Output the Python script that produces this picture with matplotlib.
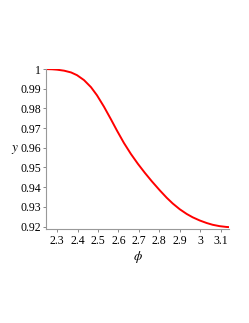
import matplotlib
matplotlib.use("Agg")
import matplotlib.pyplot as plt

# points
phi = [2.2463, 2.2756, 2.3000, 2.3341, 2.3683, 2.3976, 2.4317, 2.4659,
       2.4951, 2.5293, 2.5634, 2.5927, 2.6268, 2.6610, 2.6951, 2.7293,
       2.7634, 2.8024, 2.8366, 2.8659, 2.9000, 2.9341, 2.9634, 2.9976,
       3.0317, 3.0610, 3.0951, 3.1278, 3.1416]
y = [1.0000, 0.9999, 0.9997, 0.9992, 0.9983, 0.9969, 0.9944, 0.9908,
     0.9867, 0.9809, 0.9745, 0.9688, 0.9625, 0.9569, 0.9519, 0.9473,
     0.9430, 0.9384, 0.9346, 0.9317, 0.9288, 0.9264, 0.9247, 0.9231,
     0.9218, 0.9209, 0.9202, 0.9198, 0.9197]

xticks = [2.3, 2.4, 2.5, 2.6, 2.7, 2.8, 2.9, 3.0, 3.1]
xticklabels = ["2.3", "2.4", "2.5", "2.6", "2.7", "2.8", "2.9", "3", "3.1"]
yticks = [0.92, 0.93, 0.94, 0.95, 0.96, 0.97, 0.98, 0.99, 1.0]
yticklabels = ["0.92", "0.93", "0.94", "0.95", "0.96", "0.97", "0.98", "0.99", "1"]

plt.rcParams["font.family"] = "Liberation Serif"
plt.rcParams["mathtext.fontset"] = "stix"

fig = plt.figure(figsize=(2.49, 3.23), dpi=100)
ax = fig.add_axes([0.185, 0.2895, 0.735, 0.4966])

ax.plot(phi, y, color="red", linewidth=1.4, solid_capstyle="butt",
        solid_joinstyle="round")

ax.set_xlim(2.246, 3.1416)
ax.set_ylim(0.9185, 1.0)

ax.set_xticks(xticks)
ax.set_xticklabels(xticklabels)
ax.set_yticks(yticks)
ax.set_yticklabels(yticklabels)

for s in ["top", "right"]:
    ax.spines[s].set_visible(False)
for s in ["left", "bottom"]:
    ax.spines[s].set_color("#999999")
    ax.spines[s].set_linewidth(0.8)

ax.tick_params(axis="both", direction="out", length=2.2, width=0.7,
               color="#888888", labelsize=8.5, pad=1.5)

ax.set_xlabel(r"$\phi$", fontsize=9.5, labelpad=2)
ax.set_ylabel(r"$y$", fontsize=9.5, rotation=0, labelpad=4, va="center")

fig.savefig("out.png", dpi=100)
